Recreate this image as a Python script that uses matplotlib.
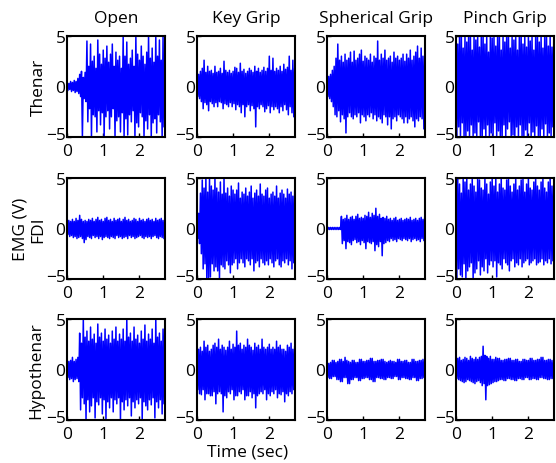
import numpy as np
import matplotlib
matplotlib.use("Agg")
import matplotlib.pyplot as plt
from matplotlib.transforms import ScaledTranslation

plt.rcParams['font.family'] = ['Open Sans', 'DejaVu Sans']

grips = ['Open', 'Key Grip', 'Spherical Grip', 'Pinch Grip']
muscles = ['Thenar', 'FDI', 'Hypothenar']

# upper / lower peak of each 0.05 s window, t = 0.00 ... 2.70 s
dt = 0.05

# ---- Thenar
open_thenar_hi = [0.4, 0.3, 0.5, 0.4, 0.6, 0.5, 0.8, 1.2, 1.5, 0.9, 1.4,
                  4.5, 2.0, 4.2, 2.5, 3.0, 1.8, 4.6, 3.2, 2.2, 3.6, 2.8,
                  4.0, 2.4, 3.2, 4.2, 2.0, 3.4, 2.6, 3.0, 1.8, 5.0, 3.0,
                  4.4, 2.2, 2.8, 3.6, 2.0, 5.0, 3.2, 2.6, 4.0, 3.0, 2.2,
                  3.4, 5.0, 2.8, 3.8, 2.4, 5.0, 3.0, 4.6, 2.6, 5.0, 4.0]
open_thenar_lo = [-0.4, -0.3, -0.5, -0.4, -0.6, -0.5, -0.7, -1.0, -5.0, -1.2, -1.5,
                  -3.5, -2.2, -5.0, -2.8, -3.0, -4.5, -2.4, -3.8, -2.6, -5.0, -3.0,
                  -2.4, -4.2, -3.0, -2.2, -5.0, -3.4, -3.0, -4.5, -2.6, -5.0, -3.2,
                  -4.8, -2.8, -3.5, -2.4, -5.0, -3.6, -4.0, -2.6, -3.0, -5.0, -3.4,
                  -4.2, -2.8, -5.0, -3.6, -3.2, -4.6, -2.8, -3.5, -5.0, -4.0, -5.0]
key_thenar_hi = [1.0, 1.2, 1.5, 1.8, 2.6, 1.4, 2.0, 1.5, 1.6, 1.3, 2.0,
                 1.4, 1.5, 1.8, 1.3, 2.5, 1.6, 1.4, 1.6, 1.3, 1.5, 1.9,
                 1.8, 1.4, 2.3, 1.5, 1.7, 1.3, 1.5, 1.8, 1.6, 1.4, 2.0,
                 1.5, 1.8, 1.4, 1.6, 1.9, 1.5, 1.8, 3.0, 1.6, 2.8, 1.5,
                 1.8, 1.6, 2.0, 1.5, 2.2, 1.7, 1.9, 3.0, 1.6, 2.6, 1.8]
key_thenar_lo = [-1.0, -1.2, -1.5, -2.2, -1.6, -1.8, -2.4, -1.5, -1.7, -2.0, -1.6,
                 -2.0, -1.5, -1.6, -2.2, -1.7, -1.8, -2.0, -1.6, -2.0, -1.7, -2.3,
                 -1.8, -2.0, -2.6, -1.8, -3.0, -2.0, -1.8, -2.4, -1.9, -2.2, -4.0,
                 -2.0, -2.2, -1.8, -2.0, -2.5, -2.2, -1.9, -2.6, -2.0, -2.3, -2.0,
                 -2.2, -2.6, -2.0, -2.4, -1.8, -2.3, -2.8, -2.0, -2.6, -3.0, -2.2]
sph_thenar_hi = [1.5, 1.0, 1.2, 1.6, 2.0, 2.8, 4.2, 2.6, 3.0, 2.4, 3.2,
                 2.6, 2.8, 3.4, 2.4, 3.5, 2.6, 2.8, 3.2, 3.6, 2.5, 3.0,
                 2.8, 2.6, 3.2, 2.4, 3.0, 2.8, 4.5, 2.6, 3.2, 2.8, 3.6,
                 2.6, 2.8, 3.0, 2.4, 3.4, 2.8, 3.0, 2.6, 2.8, 3.2, 2.5,
                 3.2, 2.8, 3.6, 2.6, 3.0, 3.4, 4.0, 2.8, 3.8, 3.0, 3.2]
sph_thenar_lo = [-1.0, -1.2, -1.5, -2.0, -2.8, -3.0, -2.4, -3.5, -2.8, -3.2, -4.6,
                 -3.0, -2.6, -3.0, -3.2, -2.8, -3.0, -2.6, -3.6, -2.8, -3.0, -3.4,
                 -2.8, -3.0, -2.6, -3.2, -2.8, -3.4, -3.0, -3.2, -3.6, -2.8, -3.0,
                 -3.8, -3.0, -4.2, -3.2, -3.0, -3.4, -2.8, -3.0, -3.2, -3.6, -3.0,
                 -3.6, -3.2, -3.0, -3.4, -4.0, -3.2, -3.4, -3.0, -3.2, -4.2, -3.6]
pinch_thenar_hi = [5.0, 4.2, 5.0, 5.0, 3.8, 5.0, 4.4, 5.0, 5.0, 3.6, 5.0,
                   4.6, 5.0, 3.9, 5.0, 5.0, 4.2, 5.0, 3.4, 5.0, 4.8, 5.0,
                   4.0, 5.0, 5.0, 3.6, 5.0, 4.4, 5.0, 5.0, 3.8, 5.0, 4.6,
                   5.0, 3.6, 5.0, 5.0, 4.2, 5.0, 3.9, 5.0, 4.5, 5.0, 3.6,
                   5.0, 5.0, 4.4, 5.0, 3.8, 5.0, 5.0, 4.0, 5.0, 3.9, 5.0]
pinch_thenar_lo = [-5.0, -4.0, -5.0, -3.6, -5.0, -5.0, -4.4, -5.0, -3.8, -5.0, -4.6,
                   -5.0, -3.5, -5.0, -5.0, -4.2, -5.0, -3.8, -5.0, -4.6, -5.0, -3.6,
                   -5.0, -4.4, -5.0, -5.0, -3.8, -5.0, -4.2, -3.5, -5.0, -4.8, -5.0,
                   -4.0, -5.0, -3.8, -5.0, -5.0, -4.3, -5.0, -3.6, -5.0, -4.5, -5.0,
                   -3.9, -5.0, -5.0, -4.2, -5.0, -3.7, -5.0, -4.6, -5.0, -4.0, -5.0]

# ---- FDI
open_fdi_hi = [0.6, 0.8, 0.7, 0.9, 0.7, 1.0, 0.8, 1.3, 0.9, 0.7, 0.8,
               0.7, 0.9, 0.8, 1.0, 0.7, 0.9, 1.1, 0.8, 0.9, 0.7, 1.0,
               1.1, 0.8, 0.9, 0.7, 1.0, 0.8, 0.9, 1.0, 0.7, 0.9, 1.1,
               0.8, 0.9, 0.7, 0.8, 1.0, 0.9, 0.7, 1.0, 0.8, 0.9, 0.7,
               0.9, 1.0, 0.8, 0.9, 0.7, 1.0, 0.8, 0.9, 1.0, 0.8, 0.9]
open_fdi_lo = [-0.6, -0.8, -0.7, -0.9, -0.8, -1.0, -0.9, -0.8, -1.0, -1.4, -1.1,
               -0.8, -0.9, -1.0, -0.7, -0.9, -0.8, -1.0, -0.8, -1.1, -0.9, -0.8,
               -0.9, -1.0, -0.8, -0.9, -1.0, -0.7, -0.9, -0.8, -1.0, -0.9, -0.8,
               -1.0, -0.7, -0.9, -0.8, -1.0, -0.9, -0.8, -0.7, -0.9, -1.0, -0.8,
               -0.9, -0.8, -1.0, -0.8, -0.7, -0.9, -1.0, -0.8, -0.9, -1.0, -0.8]
key_fdi_hi = [1.0, 1.5, 3.5, 4.8, 4.0, 5.0, 3.6, 5.0, 4.2, 3.8, 5.0,
              4.0, 3.6, 4.6, 3.4, 5.0, 3.5, 4.0, 3.2, 4.2, 3.8, 3.4,
              3.8, 4.5, 3.0, 3.6, 3.4, 4.0, 3.2, 3.6, 4.2, 3.0, 3.5,
              3.8, 3.2, 4.4, 3.4, 3.2, 3.8, 4.0, 3.0, 3.4, 3.6, 3.2,
              4.2, 3.0, 3.5, 3.8, 3.4, 3.0, 3.9, 3.4, 3.6, 3.2, 3.8]
key_fdi_lo = [-1.0, -1.5, -2.5, -4.0, -3.5, -5.0, -5.0, -4.8, -3.5, -4.2, -3.8,
              -4.2, -5.0, -3.6, -3.8, -4.0, -3.2, -3.6, -4.4, -3.6, -3.4, -3.0,
              -4.0, -3.4, -3.0, -3.4, -3.8, -3.0, -3.2, -3.6, -3.0, -4.2, -3.4,
              -3.2, -3.8, -3.0, -3.4, -3.6, -3.2, -3.6, -3.0, -3.4, -3.8, -3.2,
              -3.0, -3.6, -3.8, -3.2, -3.4, -3.0, -3.6, -3.2, -4.0, -3.4, -3.6]
sph_fdi_hi = [0.1, 0.1, 0.1, 0.1, 0.1, 0.1, 0.1, 0.1, 1.2, 0.9, 1.0,
              1.3, 0.9, 1.1, 1.2, 0.9, 1.2, 1.4, 1.0, 1.1, 1.0, 1.3,
              1.2, 1.6, 1.1, 1.5, 1.3, 2.0, 1.2, 1.4, 1.0, 1.1, 1.0,
              1.2, 0.9, 1.0, 0.8, 1.0, 1.1, 0.8, 0.9, 1.0, 0.8, 0.9,
              1.0, 0.9, 1.1, 0.8, 0.9, 1.0, 0.8, 1.0, 1.1, 0.9, 1.3]
sph_fdi_lo = [-0.1, -0.1, -0.1, -0.1, -0.1, -0.1, -0.1, -0.1, -1.5, -1.2, -2.0,
              -1.3, -1.4, -1.6, -1.2, -1.1, -1.4, -1.3, -1.6, -1.2, -1.4, -2.0,
              -1.3, -1.4, -1.5, -1.3, -2.2, -1.6, -1.8, -1.3, -2.7, -1.5, -1.4,
              -1.2, -1.3, -1.0, -1.2, -1.1, -1.3, -1.0, -1.1, -1.2, -1.0, -1.1,
              -1.2, -1.0, -1.3, -1.1, -1.0, -1.2, -1.1, -1.3, -1.0, -1.2, -1.0]
pinch_fdi_hi = [4.0, 5.0, 4.4, 3.5, 5.0, 4.6, 5.0, 3.8, 4.4, 5.0, 4.2,
                3.6, 5.0, 4.8, 4.0, 3.8, 5.0, 4.4, 3.4, 4.6, 5.0, 4.2,
                5.0, 3.6, 4.4, 5.0, 4.0, 3.8, 4.8, 5.0, 4.2, 3.6, 4.4,
                5.0, 3.8, 4.2, 4.8, 5.0, 3.6, 4.4, 5.0, 4.0, 3.8, 4.6,
                5.0, 4.2, 3.8, 4.6, 5.0, 4.0, 3.6, 4.6, 5.0, 4.2, 4.4]
pinch_fdi_lo = [-5.0, -4.0, -4.6, -4.8, -3.5, -5.0, -4.2, -3.8, -3.4, -5.0, -4.4,
                -4.0, -3.2, -4.6, -3.8, -4.2, -3.0, -4.4, -3.6, -3.2, -3.8, -3.2,
                -4.8, -3.4, -3.6, -4.0, -3.0, -3.4, -3.6, -4.2, -3.2, -3.0, -3.8,
                -3.4, -3.6, -3.0, -3.8, -3.4, -3.2, -3.0, -3.6, -3.4, -3.2, -3.0,
                -3.6, -3.4, -3.3, -3.0, -3.6, -3.2, -3.4, -3.0, -3.5, -3.2, -3.3]

# ---- Hypothenar
open_hypo_hi = [1.0, 0.8, 0.9, 1.2, 0.8, 1.0, 1.2, 3.6, 2.6, 5.0, 3.2,
                3.8, 2.8, 4.2, 3.0, 3.5, 2.6, 4.5, 3.2, 3.6, 2.8, 4.0,
                3.0, 3.4, 2.6, 3.8, 3.0, 4.2, 2.8, 3.5, 3.0, 4.0, 2.8,
                5.0, 3.2, 3.6, 2.8, 4.2, 3.0, 3.4, 2.6, 3.8, 3.0, 4.4,
                2.8, 3.5, 3.0, 4.0, 2.6, 5.0, 3.2, 3.6, 2.8, 4.0, 5.0]
open_hypo_lo = [-0.8, -1.0, -0.9, -1.2, -1.0, -0.9, -1.2, -4.0, -2.8, -3.4, -5.0,
                -3.0, -4.2, -3.6, -2.8, -4.8, -3.2, -3.5, -2.8, -4.4, -3.0, -5.0,
                -3.2, -3.8, -2.8, -4.2, -3.0, -3.4, -2.8, -5.0, -3.2, -4.0, -3.0,
                -3.6, -2.8, -4.6, -3.2, -3.8, -3.0, -3.4, -2.8, -5.0, -3.2, -3.6,
                -4.0, -3.0, -3.5, -2.8, -4.8, -3.2, -3.8, -3.0, -4.4, -3.4, -5.0]
key_hypo_hi = [2.6, 2.0, 2.2, 1.8, 2.8, 2.2, 2.4, 1.8, 2.0, 2.4, 2.6,
               2.2, 3.0, 2.0, 2.4, 2.2, 1.9, 2.2, 2.8, 2.0, 2.5, 2.2,
               3.8, 2.4, 2.6, 2.0, 2.4, 2.2, 3.0, 2.4, 2.2, 1.9, 2.6,
               2.2, 2.4, 2.0, 3.0, 2.2, 2.0, 2.2, 2.5, 2.0, 2.2, 2.0,
               2.8, 2.2, 2.4, 2.0, 2.0, 1.8, 2.4, 2.2, 2.6, 2.0, 2.3]
key_hypo_lo = [-2.0, -2.4, -2.5, -2.0, -3.0, -2.4, -2.4, -2.6, -2.6, -2.2, -3.4,
               -2.4, -2.2, -2.4, -4.2, -2.6, -2.8, -2.2, -2.4, -2.0, -3.0, -2.6,
               -2.6, -2.2, -2.4, -2.0, -3.0, -2.6, -2.6, -2.2, -2.8, -2.4, -3.8,
               -2.6, -2.4, -2.2, -2.4, -2.0, -3.0, -2.4, -2.6, -2.2, -2.4, -2.0,
               -2.8, -2.4, -2.5, -2.2, -3.2, -2.4, -2.6, -2.2, -2.4, -2.0, -2.6]
sph_hypo_hi = [0.8, 0.6, 0.7, 0.9, 0.9, 0.7, 0.8, 1.0, 1.0, 0.8, 1.2,
               0.9, 0.8, 0.7, 0.9, 0.9, 0.7, 0.7, 1.0, 1.0, 0.8, 0.8,
               0.9, 0.9, 1.1, 1.1, 0.8, 0.8, 0.9, 0.9, 1.0, 1.0, 0.8,
               0.7, 0.8, 0.9, 0.8, 0.8, 0.7, 1.0, 1.0, 0.8, 0.8, 0.9,
               0.9, 0.7, 0.7, 1.0, 1.0, 0.8, 0.8, 0.9, 0.9, 1.0, 1.0]
sph_hypo_lo = [-0.8, -0.9, -0.9, -0.7, -0.7, -1.0, -1.0, -1.2, -1.2, -0.8, -0.8,
               -1.4, -1.4, -1.0, -1.0, -0.8, -0.8, -1.1, -1.1, -0.9, -0.9, -0.8,
               -0.8, -1.0, -1.0, -1.2, -1.2, -0.8, -0.8, -0.9, -0.9, -1.0, -1.0,
               -0.8, -0.8, -0.9, -0.9, -0.7, -0.7, -1.0, -1.0, -0.8, -0.8, -0.9,
               -0.9, -1.0, -1.0, -0.8, -0.8, -1.1, -1.1, -0.9, -0.9, -0.8, -0.8]
pinch_hypo_hi = [0.9, 1.1, 1.2, 0.9, 1.0, 1.2, 1.1, 0.9, 1.3, 1.1, 1.0,
                 1.2, 1.0, 1.2, 1.3, 2.3, 1.4, 1.3, 1.1, 1.3, 1.0, 1.0,
                 1.2, 1.1, 1.1, 0.9, 0.9, 1.0, 1.0, 1.1, 1.1, 0.9, 0.9,
                 1.0, 1.0, 0.8, 0.8, 1.0, 1.0, 0.9, 0.9, 1.1, 1.1, 0.9,
                 0.9, 1.0, 1.0, 1.2, 1.2, 0.9, 0.9, 1.0, 1.0, 0.9, 0.9]
pinch_hypo_lo = [-0.9, -1.0, -1.1, -1.2, -1.3, -1.2, -1.0, -1.1, -1.2, -1.3, -1.4,
                 -1.2, -1.1, -1.3, -1.6, -1.4, -3.0, -1.6, -1.5, -1.4, -1.3, -1.2,
                 -1.2, -1.1, -1.0, -1.0, -1.1, -1.1, -0.9, -0.9, -1.0, -1.0, -1.1,
                 -1.1, -0.9, -0.9, -1.0, -1.0, -0.8, -0.8, -1.0, -1.0, -0.9, -0.9,
                 -1.0, -1.0, -0.8, -0.8, -0.9, -0.9, -1.0, -1.0, -0.9, -0.9, -1.0]

signals = [
    [(open_thenar_hi, open_thenar_lo), (key_thenar_hi, key_thenar_lo),
     (sph_thenar_hi, sph_thenar_lo), (pinch_thenar_hi, pinch_thenar_lo)],
    [(open_fdi_hi, open_fdi_lo), (key_fdi_hi, key_fdi_lo),
     (sph_fdi_hi, sph_fdi_lo), (pinch_fdi_hi, pinch_fdi_lo)],
    [(open_hypo_hi, open_hypo_lo), (key_hypo_hi, key_hypo_lo),
     (sph_hypo_hi, sph_hypo_lo), (pinch_hypo_hi, pinch_hypo_lo)],
]

fig = plt.figure(figsize=(5.56, 4.64), dpi=100)

lefts = [0.1205, 0.354, 0.588, 0.820]
bottoms = [0.7026, 0.3966, 0.0927]
w, h = 0.176, 0.2177
fs = 12.5

for r in range(3):
    for c in range(4):
        ax = fig.add_axes([lefts[c], bottoms[r], w, h])
        hi, lo = signals[r][c]
        # upper peak at window start, lower peak half a window later
        x = np.concatenate([np.arange(len(hi)) * dt, np.arange(len(lo)) * dt + dt / 2])
        y = np.concatenate([hi, lo])
        order = np.argsort(x, kind='stable')
        ax.plot(x[order], y[order], color='#0000ff', lw=1.1)
        ax.set_xlim(0, 2.7)
        ax.set_ylim(-5, 5)
        ax.set_xticks([0, 1, 2])
        ax.set_yticks([-5, 0, 5])
        ax.set_yticklabels(['\u22125', '0', '5'])
        ax.tick_params(direction='in', length=3, width=1, labelsize=fs)
        ax.tick_params(axis='x', pad=4)
        ax.tick_params(axis='y', pad=1)
        # lift the bottom y label a little off the corner
        lab = ax.get_yticklabels()[0]
        lab.set_transform(lab.get_transform() + ScaledTranslation(0, 3 / 72, fig.dpi_scale_trans))
        for s in ax.spines.values():
            s.set_linewidth(1.5)
        if r == 0:
            ax.set_title(grips[c], fontsize=fs, pad=10)

fig.text(0.070, bottoms[0] + h / 2, 'Thenar', rotation=90, ha='center', va='center', fontsize=fs)
fig.text(0.036, bottoms[1] + h / 2, 'EMG (V)', rotation=90, ha='center', va='center', fontsize=fs)
fig.text(0.068, bottoms[1] + h / 2, 'FDI', rotation=90, ha='center', va='center', fontsize=fs)
fig.text(0.066, bottoms[2] + h / 2, 'Hypothenar', rotation=90, ha='center', va='center', fontsize=fs)
fig.text(0.445, 0.025, 'Time (sec)', ha='center', va='center', fontsize=fs)

fig.savefig('out.png', dpi=100)
